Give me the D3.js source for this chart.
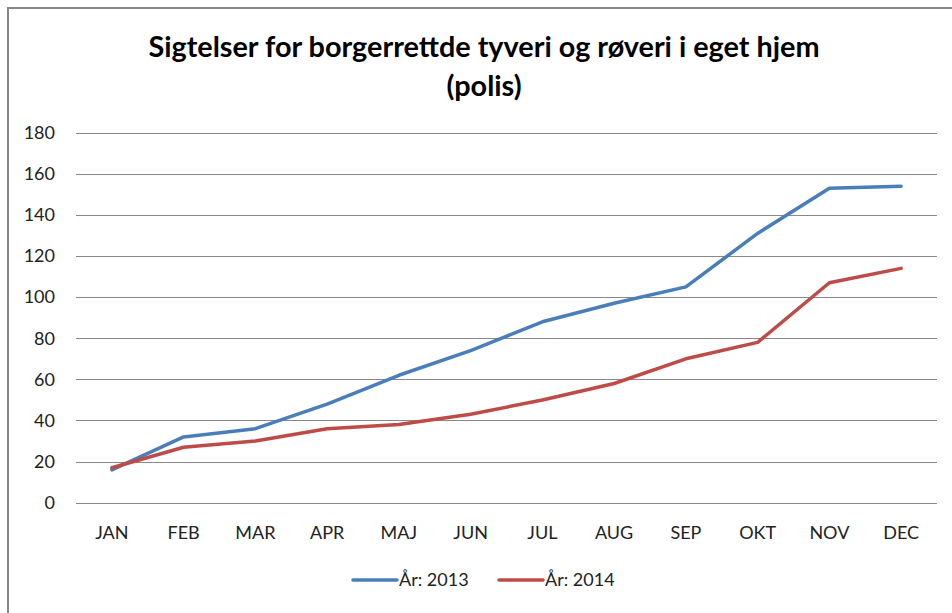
<!DOCTYPE html>
<html>
<head>
<meta charset="utf-8">
<script src="https://cdn.jsdelivr.net/npm/d3@7"></script>
<style>
  body { margin: 0; background: #fff; }
  text { font-family: Lato, "Open Sans", sans-serif; }
</style>
</head>
<body>
<div class="canvas"></div>
<script>
const months = ["JAN", "FEB", "MAR", "APR", "MAJ", "JUN", "JUL", "AUG", "SEP", "OKT", "NOV", "DEC"];
const values2013 = [16, 32, 36, 48, 62, 74, 88, 97, 105, 131, 153, 154];
const values2014 = [17, 27, 30, 36, 38, 43, 50, 58, 70, 78, 107, 114];
const seriesNames = ["År: 2013", "År: 2014"];
const seriesColors = ["#4a7ebb", "#be4b48"];
const yTicks = [0, 20, 40, 60, 80, 100, 120, 140, 160, 180];

const width = 952;
const height = 613;

const svg = d3
  .select(".canvas")
  .append("svg")
  .attr("width", width)
  .attr("height", height);

// frame (chart is cropped on right and bottom)
svg
  .append("rect")
  .attr("x", 8)
  .attr("y", 8)
  .attr("width", width + 20)
  .attr("height", height + 20)
  .attr("fill", "white")
  .attr("stroke", "#878787")
  .attr("stroke-width", 2);

// title
const title = svg
  .append("text")
  .attr("text-anchor", "middle")
  .attr("font-weight", "bold")
  .attr("fill", "black");
title
  .append("tspan")
  .attr("x", 484)
  .attr("y", 57)
  .text("Sigtelser for borgerrettde tyveri og røveri i eget hjem");
title
  .append("tspan")
  .attr("x", 484)
  .attr("y", 96)
  .text("(polis)");
title.attr("font-size", 24);
// squeeze to the narrow look of the original
const firstLine = title.select("tspan").node();
const w = firstLine.getComputedTextLength();
title.attr("font-size", 24 * Math.min(1.2, 672 / w));

// scales
const x = d3.scaleBand().domain(months).range([76, 937]);
const y = d3.scaleLinear().domain([0, 180]).range([502.7, 132.7]);

// gridlines
svg
  .append("g")
  .selectAll("line")
  .data(yTicks)
  .join("line")
  .attr("x1", 76)
  .attr("x2", 937)
  .attr("y1", (d) => Math.round(y(d)) + 0.5)
  .attr("y2", (d) => Math.round(y(d)) + 0.5)
  .attr("stroke", "#888")
  .attr("stroke-width", 1);

// y labels
svg
  .append("g")
  .selectAll("text")
  .data(yTicks)
  .join("text")
  .attr("x", 55)
  .attr("y", (d) => y(d))
  .attr("dy", "0.35em")
  .attr("text-anchor", "end")
  .attr("font-size", 18)
  .attr("fill", "#222")
  .text((d) => d);

// x labels
svg
  .append("g")
  .selectAll("text")
  .data(months)
  .join("text")
  .attr("x", (d) => x(d) + x.bandwidth() / 2)
  .attr("y", 533)
  .attr("dy", "0.35em")
  .attr("text-anchor", "middle")
  .attr("font-size", 18)
  .attr("fill", "#222")
  .text((d) => d);

// lines
const line = d3
  .line()
  .x((d, i) => x(months[i]) + x.bandwidth() / 2)
  .y((d) => y(d));

[values2013, values2014].forEach((vals, i) => {
  svg
    .append("path")
    .attr("d", line(vals))
    .attr("fill", "none")
    .attr("stroke", seriesColors[i])
    .attr("stroke-width", 3.5)
    .attr("stroke-linejoin", "round")
    .attr("stroke-linecap", "round");
});

// legend
const legendX = [353, 499];
seriesNames.forEach((name, i) => {
  svg
    .append("line")
    .attr("x1", legendX[i])
    .attr("x2", legendX[i] + 44)
    .attr("y1", 580)
    .attr("y2", 580)
    .attr("stroke", seriesColors[i])
    .attr("stroke-width", 3.5)
    .attr("stroke-linecap", "round");
  svg
    .append("text")
    .attr("x", legendX[i] + 46)
    .attr("y", 580)
    .attr("dy", "0.35em")
    .attr("font-size", 18)
    .attr("fill", "#222")
    .text(name);
});
</script>
</body>
</html>
